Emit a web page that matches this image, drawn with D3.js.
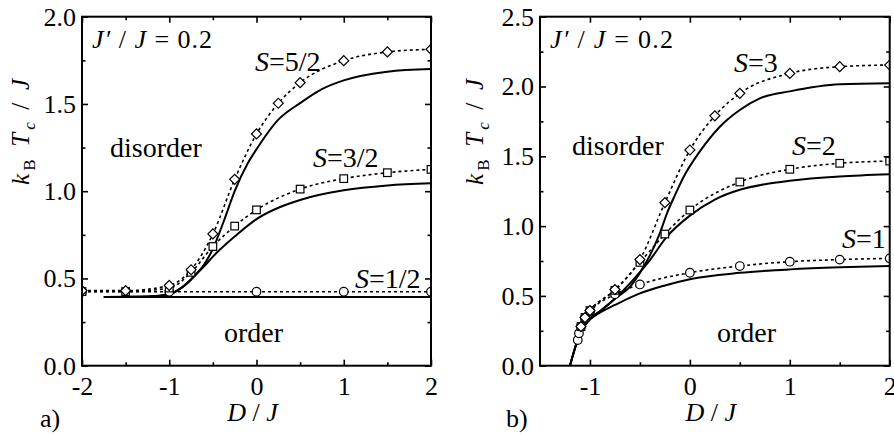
<!DOCTYPE html>
<html lang="en">
  <head>
    <meta charset="utf-8">
    <title>Tc vs D</title>
    <script src="https://cdn.jsdelivr.net/npm/d3@7"></script>
    <style>
      body { margin: 0; background: #fff; }
      svg text { font-family: "Liberation Serif", serif; fill: #000; }
      .it { font-style: italic; }
    </style>
  </head>
  <body>
    <script>
      // ---- panel a) J'/J = 0.2, half-integer spins ----
      // symbols (dotted)
      var aDiaD = [-2, -1.5, -1, -0.75, -0.5, -0.25, 0, 0.25, 0.5, 1, 1.5, 2];
      var aDiaS52 = [0.43, 0.43, 0.46, 0.55, 0.755, 1.068, 1.328, 1.504, 1.622, 1.748, 1.798, 1.813];
      var aSqD = [-2, -1.5, -1, -0.75, -0.5, -0.25, 0, 0.5, 1, 1.5, 2];
      var aSqS32 = [0.425, 0.425, 0.445, 0.535, 0.683, 0.80, 0.893, 1.012, 1.072, 1.106, 1.125];
      var aCirD = [-2, -1, 0, 1, 2];
      var aCirS12 = [0.424, 0.424, 0.424, 0.424, 0.424];
      // solid curves
      var aLineD12 = [-1.75, 2];
      var aLineS12 = [0.394, 0.394];
      var aLineD32 = [-1.75, -1.25, -1, -0.85, -0.7, -0.6, -0.5, -0.25, 0, 0.25, 0.5, 1, 1.5, 2];
      var aLineS32 = [0.394, 0.396, 0.41, 0.45, 0.52, 0.57, 0.625, 0.74, 0.84, 0.905, 0.95, 1.005, 1.033, 1.045];
      var aLineD52 = [-1.75, -1.25, -1, -0.85, -0.7, -0.6, -0.5, -0.37, -0.25, -0.1, 0, 0.25, 0.5, 0.75, 1, 1.5, 2];
      var aLineS52 = [0.394, 0.397, 0.41, 0.45, 0.52, 0.58, 0.67, 0.835, 1.0, 1.16, 1.24, 1.41, 1.505, 1.585, 1.635, 1.685, 1.70];

      // ---- panel b) J'/J = 0.2, integer spins ----
      var bCirD = [-1.122, -1.11, -1.09, -1.05, -1.0, -0.75, -0.5, 0, 0.5, 1, 1.5, 2];
      var bCirS1 = [0.184, 0.232, 0.28, 0.34, 0.387, 0.511, 0.582, 0.666, 0.714, 0.745, 0.76, 0.769];
      var bSqD = [-1.09, -1.05, -1, -0.75, -0.5, -0.25, 0, 0.5, 1, 1.5, 2];
      var bSqS2 = [0.28, 0.345, 0.395, 0.54, 0.74, 0.943, 1.115, 1.316, 1.407, 1.45, 1.466];
      var bDiaD = [-1.09, -1.05, -1, -0.75, -0.5, -0.25, 0, 0.25, 0.5, 1, 1.5, 2];
      var bDiaS3 = [0.28, 0.345, 0.395, 0.545, 0.76, 1.168, 1.545, 1.79, 1.951, 2.094, 2.142, 2.154];
      var bLineD1 = [-1.2, -1.15, -1.1, -1.05, -1.0, -0.9, -0.75, -0.5, -0.25, 0, 0.5, 1, 1.5, 2];
      var bLineS1 = [0, 0.125, 0.232, 0.29, 0.33, 0.38, 0.435, 0.518, 0.575, 0.62, 0.665, 0.69, 0.705, 0.714];
      var bLineD2 = [-1.2, -1.15, -1.1, -1.05, -1.0, -0.9, -0.75, -0.6, -0.5, -0.4, -0.23, 0, 0.25, 0.5, 0.75, 1, 1.5, 2];
      var bLineS2 = [0, 0.125, 0.232, 0.29, 0.335, 0.39, 0.48, 0.59, 0.67, 0.757, 0.924, 1.075, 1.19, 1.26, 1.30, 1.325, 1.355, 1.371];
      var bLineD3 = [-1.2, -1.15, -1.1, -1.05, -1.0, -0.9, -0.75, -0.6, -0.5, -0.4, -0.3, -0.23, -0.15, -0.064, 0.1, 0.3, 0.5, 0.7, 1, 1.5, 2];
      var bLineS3 = [0, 0.125, 0.232, 0.29, 0.335, 0.39, 0.48, 0.565, 0.665, 0.79, 0.95, 1.09, 1.22, 1.35, 1.535, 1.712, 1.832, 1.915, 1.965, 2.016, 2.023];

      // ticks
      var yTicksA = [0, 0.5, 1, 1.5, 2];
      var yTicksB = [0, 0.5, 1, 1.5, 2, 2.5];
      var xTicksA = [-2, -1, 0, 1, 2];
      var xTicksB = [-1, 0, 1, 2];

      var w = 894, h = 436;
      var serif = "Liberation Serif, serif";
      var svg = d3.select("body").append("svg")
                  .attr("width", w)
                  .attr("height", h);

      function zip(xs, ys) {
        return xs.map(function (x, i) { return [x, ys[i]]; });
      }

      function minorOf(majors, step, lo, hi) {
        var out = [];
        for (var i = 0; i < majors.length; i++) {
          var m = majors[i] + step;
          if (m > lo + 1e-9 && m < hi - 1e-9) out.push(m);
        }
        if (majors[0] - step > lo + 1e-9) out.unshift(majors[0] - step);
        return out;
      }

      function panel(opt) {
        var x = d3.scaleLinear().domain(opt.xDomain).range([opt.left, opt.right]);
        var y = d3.scaleLinear().domain(opt.yDomain).range([365.7, 16.7]);
        var g = svg.append("g");

        var xMinor = minorOf(opt.xTicks, 0.5, opt.xDomain[0], opt.xDomain[1]);
        var yMinor = minorOf(opt.yTicks, 0.25, opt.yDomain[0], opt.yDomain[1]);

        // bottom / left with labels, top / right mirrored, all ticks inward
        var axes = [
          [d3.axisBottom(x).tickValues(opt.xTicks).tickFormat(function (d) { return String(d); }), "translate(0," + y.range()[0] + ")", 6],
          [d3.axisBottom(x).tickValues(xMinor).tickFormat(""), "translate(0," + y.range()[0] + ")", 3.5],
          [d3.axisTop(x).tickValues(opt.xTicks).tickFormat(""), "translate(0," + y.range()[1] + ")", 6],
          [d3.axisTop(x).tickValues(xMinor).tickFormat(""), "translate(0," + y.range()[1] + ")", 3.5],
          [d3.axisLeft(y).tickValues(opt.yTicks).tickFormat(d3.format(".1f")), "translate(" + opt.left + ",0)", 6],
          [d3.axisLeft(y).tickValues(yMinor).tickFormat(""), "translate(" + opt.left + ",0)", 3.5],
          [d3.axisRight(y).tickValues(opt.yTicks).tickFormat(""), "translate(" + opt.right + ",0)", 6],
          [d3.axisRight(y).tickValues(yMinor).tickFormat(""), "translate(" + opt.right + ",0)", 3.5]
        ];
        axes.forEach(function (a, i) {
          var ag = g.append("g")
            .attr("transform", a[1])
            .call(a[0].tickSize(-a[2]).tickSizeOuter(0).tickPadding(i === 0 ? 11 : 6))
            .attr("font-family", serif)
            .attr("font-size", 26);
          ag.select(".domain").remove();
          ag.selectAll(".tick line").attr("stroke", "#000").attr("stroke-width", 1.6);
          ag.selectAll(".tick text").attr("fill", "#000");
        });

        var clipId = "clip" + opt.name;
        svg.append("clipPath").attr("id", clipId)
           .append("rect")
           .attr("x", opt.left).attr("y", y.range()[1])
           .attr("width", opt.right - opt.left)
           .attr("height", y.range()[0] - y.range()[1]);

        var plot = g.append("g").attr("clip-path", "url(#" + clipId + ")");
        var line = d3.line()
                     .x(function (d) { return x(d[0]); })
                     .y(function (d) { return y(d[1]); })
                     .curve(d3.curveMonotoneX);

        opt.solid.forEach(function (s) {
          plot.append("path").attr("d", line(s))
              .attr("fill", "none").attr("stroke", "#000").attr("stroke-width", 2);
        });
        opt.dotted.forEach(function (s) {
          plot.append("path").attr("d", line(s.data))
              .attr("fill", "none").attr("stroke", "#000")
              .attr("stroke-width", 1.6).attr("stroke-dasharray", "3,3");
        });
        var marks = plot.append("g")
                        .attr("fill", "#fff").attr("stroke", "#000").attr("stroke-width", 1.2);
        opt.dotted.forEach(function (s) {
          var sym = marks.selectAll(null).data(s.data).enter();
          if (s.shape === "circle") {
            sym.append("circle")
               .attr("cx", function (d) { return x(d[0]); })
               .attr("cy", function (d) { return y(d[1]); })
               .attr("r", 4.3);
          } else if (s.shape === "square") {
            sym.append("rect")
               .attr("x", function (d) { return x(d[0]) - 3.8; })
               .attr("y", function (d) { return y(d[1]) - 3.8; })
               .attr("width", 7.6).attr("height", 7.6);
          } else {
            sym.append("path")
               .attr("d", d3.symbol().type(d3.symbolSquare).size(50))
               .attr("transform", function (d) {
                 return "translate(" + x(d[0]) + "," + y(d[1]) + ") rotate(45)";
               });
          }
        });

        // frame
        g.append("rect")
         .attr("x", opt.left).attr("y", y.range()[1])
         .attr("width", opt.right - opt.left)
         .attr("height", y.range()[0] - y.range()[1])
         .attr("fill", "none").attr("stroke", "#000").attr("stroke-width", 2);

        // labels
        var ann = g.append("g").attr("font-family", serif).attr("font-size", 28);
        var jt = ann.append("text").attr("x", opt.left + 10).attr("y", 47.5)
                    .attr("font-size", 26)
                    .attr("textLength", opt.jLen).attr("lengthAdjust", "spacing");
        jt.append("tspan").attr("class", "it").text("J\u2032");
        jt.append("tspan").text(" / ");
        jt.append("tspan").attr("class", "it").text("J");
        jt.append("tspan").text(" = 0.2");

        opt.spins.forEach(function (s) {
          var t = ann.append("text").attr("x", s.x).attr("y", s.y);
          t.append("tspan").attr("class", "it").text("S");
          t.append("tspan").text("=" + s.label);
        });
        ann.append("text").attr("x", opt.dis[0]).attr("y", opt.dis[1]).text("disorder");
        ann.append("text").attr("x", opt.ord[0]).attr("y", opt.ord[1]).text("order");

        var xl = ann.append("text").attr("x", (opt.left + opt.right) / 2 - 4).attr("y", 421)
                    .attr("text-anchor", "middle").attr("font-size", 26);
        xl.append("tspan").attr("class", "it").text("D");
        xl.append("tspan").text(" / ");
        xl.append("tspan").attr("class", "it").text("J");

        ann.append("text").attr("x", opt.tag).attr("y", 427).attr("font-size", 26).text(opt.name + ")");

        var yl = ann.append("text")
                    .attr("transform", "translate(" + opt.ylab + ",132) rotate(-90)")
                    .attr("text-anchor", "middle").attr("font-size", 25)
                    .attr("textLength", 106).attr("lengthAdjust", "spacing");
        yl.append("tspan").attr("class", "it").text("k");
        yl.append("tspan").attr("dy", 6).attr("font-size", 17).text("B");
        yl.append("tspan").attr("dy", -6).attr("class", "it").text(" T");
        yl.append("tspan").attr("dy", 6).attr("class", "it").attr("font-size", 17).text("c");
        yl.append("tspan").attr("dy", -6).text(" / ");
        yl.append("tspan").attr("class", "it").text("J");
      }

      panel({
        name: "a", left: 82, right: 431, xDomain: [-2, 2], yDomain: [0, 2],
        xTicks: xTicksA, yTicks: yTicksA, jLen: 120,
        solid: [zip(aLineD12, aLineS12), zip(aLineD32, aLineS32), zip(aLineD52, aLineS52)],
        dotted: [
          { data: zip(aCirD, aCirS12), shape: "circle" },
          { data: zip(aSqD, aSqS32), shape: "square" },
          { data: zip(aDiaD, aDiaS52), shape: "diamond" }
        ],
        spins: [
          { label: "5/2", x: 255, y: 71 },
          { label: "3/2", x: 313, y: 167 },
          { label: "1/2", x: 355, y: 288 }
        ],
        dis: [110, 157], ord: [224, 342], tag: 40, ylab: 29
      });

      panel({
        name: "b", left: 540, right: 889.7, xDomain: [-1.5, 2], yDomain: [0, 2.5],
        xTicks: xTicksB, yTicks: yTicksB, jLen: 123,
        solid: [zip(bLineD1, bLineS1), zip(bLineD2, bLineS2), zip(bLineD3, bLineS3)],
        dotted: [
          { data: zip(bCirD, bCirS1), shape: "circle" },
          { data: zip(bSqD, bSqS2), shape: "square" },
          { data: zip(bDiaD, bDiaS3), shape: "diamond" }
        ],
        spins: [
          { label: "3", x: 734, y: 72 },
          { label: "2", x: 792, y: 155 },
          { label: "1", x: 842, y: 248 }
        ],
        dis: [572, 155], ord: [717, 342], tag: 506, ylab: 483
      });
    </script>
  </body>
</html>
